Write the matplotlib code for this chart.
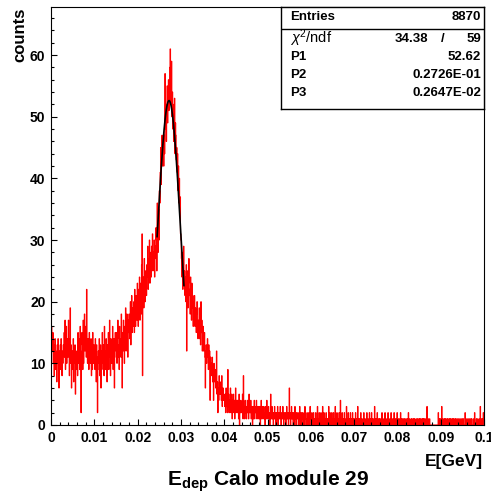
import numpy as np
import matplotlib
matplotlib.use("Agg")
import matplotlib.pyplot as plt
from matplotlib.ticker import MultipleLocator

plt.rcParams['font.family'] = ['Liberation Sans', 'DejaVu Sans']
plt.rcParams['mathtext.fontset'] = 'custom'
plt.rcParams['mathtext.rm'] = 'Liberation Sans'
plt.rcParams['mathtext.bf'] = 'Liberation Sans:bold'
plt.rcParams['mathtext.it'] = 'Liberation Sans:italic'

# ---- histogram: 1000 bins from 0 to 0.1 GeV ----
x_min, x_max, n_bins = 0.0, 0.1, 1000

counts_000 = [23,16,14,12,15,10,13,8,11,14, 9,12,11,7,13,10,14,11,6,12,
              10,13,9,14,11,8,12,10,13,12, 15,11,17,9,12,16,10,13,14,11,
              17,12,8,14,19,10,13,6,11,12, 9,14,7,11,10,13,5,12,9,10,
              12,8,15,11,10,14,9,16,12,2, 11,15,13,9,17,10,14,18,12,15,
              16,11,22,13,10,14,12,9,15,11, 13,10,14,8,12,9,15,11,10,13]
counts_010 = [12,9,14,10,7,13,11,2,9,12, 10,14,8,11,13,6,12,9,15,10,
              11,13,8,16,10,12,9,14,11,7, 13,10,15,9,12,17,11,8,14,12,
              10,13,16,9,12,14,6,11,15,13, 12,15,10,14,17,11,13,9,16,12,
              14,11,18,13,6,15,12,17,14,10, 16,13,19,12,15,18,14,11,17,15,
              18,14,16,20,13,17,21,15,19,16, 17,20,15,22,18,16,21,19,17,23]
counts_020 = [19,16,22,18,24,17,20,23,18,26, 31,8,21,24,19,27,22,20,25,23,
              21,26,24,29,22,27,25,30,23,28, 26,24,29,27,31,25,28,26,30,24,
              29,27,32,30,25,36,31,28,35,30, 38,36,41,45,39,43,47,42,46,44,
              42,47,44,57,48,52,46,50,55,49, 53,56,51,54,58,61,52,55,59,50,
              54,48,52,46,50,53,44,49,47,43, 45,41,44,38,42,36,40,34,37,31]
counts_030 = [30,27,24,28,22,26,29,23,25,21, 24,20,26,12,22,25,19,23,27,21,
              22,18,24,20,17,23,19,21,16,20, 18,21,16,19,17,15,18,20,16,14,
              17,15,19,14,16,13,20,15,17,12, 14,16,12,13,15,11,6,12,13,10,
              12,14,11,9,13,10,12,4,11,9, 10,8,11,7,9,4,10,8,7,9,
              6,8,12,5,7,2,6,4,8,5, 7,5,6,4,8,3,5,6,4,5]
counts_040 = [4,3,5,2,6,3,4,2,9,3, 5,2,4,3,6,2,3,5,1,4,
              3,5,2,4,1,3,6,2,3,4, 2,4,3,1,5,0,3,2,4,3,
              2,3,5,1,8,2,3,1,4,2, 3,1,2,4,2,3,1,5,2,3,
              2,4,1,3,2,0,3,1,2,4, 1,3,2,2,4,1,3,2,1,3,
              2,1,3,0,2,4,1,2,3,1, 2,3,1,2,0,3,2,1,4,2]
counts_050 = [1,2,3,1,2,0,1,5,2,1, 3,1,2,0,2,1,3,1,2,0,
              1,2,1,3,0,2,1,2,1,3, 2,0,1,2,1,3,1,0,2,1,
              1,2,0,1,3,1,2,1,0,2, 6,1,2,0,1,3,1,2,1,0,
              2,1,0,3,1,2,0,1,2,1, 1,0,2,1,3,0,1,2,0,1,
              2,1,0,1,2,0,3,1,1,0, 1,2,0,1,0,2,1,0,3,1]
counts_060 = [1,0,2,1,0,1,2,0,1,1, 0,2,1,0,1,3,0,1,0,2,
              1,0,1,2,0,1,0,3,1,0, 2,1,0,1,0,2,1,0,1,0,
              1,3,0,1,2,0,1,0,2,1, 0,1,2,0,1,0,3,1,0,1,
              2,0,1,0,1,2,0,1,4,0, 1,0,2,1,0,1,0,2,1,0,
              0,1,3,0,1,0,2,0,1,1, 0,2,0,1,0,1,2,0,1,0]
counts_070 = [1,0,0,2,1,0,1,0,3,0, 0,1,0,1,0,2,0,1,0,0,
              1,0,2,0,1,0,0,1,0,2, 0,1,0,0,1,2,0,1,0,1,
              2,0,1,0,0,1,0,3,0,1, 0,1,0,2,0,0,1,0,1,0,
              1,0,0,1,2,0,1,0,0,1, 0,2,0,1,0,0,1,0,2,0,
              1,0,0,1,0,2,0,0,1,0, 0,1,2,0,0,1,0,1,0,2]
counts_080 = [1,0,1,0,0,1,0,2,0,1, 0,1,0,0,1,0,1,0,0,1,
              1,0,0,1,0,2,0,1,0,0, 0,1,0,1,0,0,1,0,1,0,
              1,0,0,0,1,0,1,0,0,1, 0,1,0,1,0,0,1,0,1,0,
              1,0,1,0,0,1,0,0,3,0, 0,1,0,0,1,0,0,0,0,0,
              0,0,0,0,0,0,0,0,0,0, 0,0,0,0,2,1,0,1,0,1]
counts_090 = [1,0,3,0,1,0,0,1,0,1, 0,1,0,0,1,0,1,0,0,1,
              0,1,0,1,0,0,1,0,1,0, 1,0,0,1,0,1,0,0,1,0,
              0,1,0,0,1,0,0,1,0,0, 1,0,1,0,0,0,2,1,0,0,
              1,0,0,1,0,0,1,0,0,1, 0,1,0,0,0,1,0,0,2,0,
              0,0,1,0,1,0,0,0,1,0, 0,3,0,0,1,0,1,0,2,1]

counts = np.array(counts_000 + counts_010 + counts_020 + counts_030 + counts_040 +
                  counts_050 + counts_060 + counts_070 + counts_080 + counts_090, float)
edges = np.linspace(x_min, x_max, n_bins + 1)

# ---- Gaussian fit result (stat box) ----
entries = 8870
chi2, ndf = 34.38, 59
p1, p2, p3 = 52.62, 0.2726E-01, 0.2647E-02
fit_lo, fit_hi = 0.0245, 0.0307

x_ticks = [0, 0.01, 0.02, 0.03, 0.04, 0.05, 0.06, 0.07, 0.08, 0.09, 0.1]
x_tick_labels = ['0', '0.01', '0.02', '0.03', '0.04', '0.05', '0.06', '0.07', '0.08', '0.09', '0.1']
y_ticks = [0, 10, 20, 30, 40, 50, 60]

W, H = 491, 500
fig = plt.figure(figsize=(W / 100, H / 100), dpi=100)
ax = fig.add_axes([51 / W, 75 / H, 433 / W, 418 / H])

ax.stairs(counts, edges, color='#ff0000', lw=0.8, baseline=None)
xf = np.linspace(fit_lo, fit_hi, 200)
ax.plot(xf, p1 * np.exp(-0.5 * ((xf - p2) / p3) ** 2), color='black', lw=1.2)

ax.set_xlim(x_min, x_max)
ax.set_ylim(0, 67.8)
ax.set_xticks(x_ticks)
ax.set_xticklabels(x_tick_labels)
ax.set_yticks(y_ticks)
ax.xaxis.set_minor_locator(MultipleLocator(0.002))
ax.yaxis.set_minor_locator(MultipleLocator(2))
ax.tick_params(which='both', direction='in', top=False, right=False, width=0.8)
ax.tick_params(which='major', length=4.5, labelsize=10, pad=4)
ax.tick_params(which='minor', length=2.5)
for lab in ax.get_xticklabels() + ax.get_yticklabels():
    lab.set_fontweight('bold')
for sp in ax.spines.values():
    sp.set_linewidth(0.8)

# axis titles
fig.text(20 / W, 1 - 8 / H, 'counts', rotation=90, ha='center', va='top',
         fontsize=12, fontweight='bold')
fig.text(483 / W, 1 - 466 / H, 'E[GeV]', ha='right', va='baseline',
         fontsize=12.5, fontweight='bold')
fig.text(267.5 / W, 1 - 486 / H, r'$\mathbf{E}_{\mathbf{dep}}$ Calo module 29',
         ha='center', va='baseline', fontsize=15, fontweight='bold')

# stats box
bx = fig.add_axes([281 / W, 1 - 109 / H, 203 / W, 102 / H])
bx.set_xlim(281, 484)
bx.set_ylim(109, 7)
bx.set_xticks([]); bx.set_yticks([])
for sp in bx.spines.values():
    sp.set_linewidth(1.0)
bx.axhline(29, color='black', lw=1.0)
fs = 9.5
bx.text(290, 17.5, 'Entries', ha='left', va='center', fontsize=fs, fontweight='bold')
bx.text(481, 17.5, f'{entries}', ha='right', va='center', fontsize=fs, fontweight='bold')
bx.text(290, 38.5, r'$\chi^2$/ndf', ha='left', va='center', fontsize=fs + 1)
bx.text(428, 38.5, f'{chi2:.2f}', ha='right', va='center', fontsize=fs, fontweight='bold')
bx.text(443, 38.5, '/', ha='center', va='center', fontsize=fs, fontweight='bold')
bx.text(481, 38.5, f'{ndf}', ha='right', va='center', fontsize=fs, fontweight='bold')
rows = [('P1', '52.62', 56.5), ('P2', '0.2726E-01', 75), ('P3', '0.2647E-02', 93.5)]
for name, val, yy in rows:
    bx.text(290, yy, name, ha='left', va='center', fontsize=fs, fontweight='bold')
    bx.text(481, yy, val, ha='right', va='center', fontsize=fs, fontweight='bold')

fig.savefig('out.png', dpi=100)
